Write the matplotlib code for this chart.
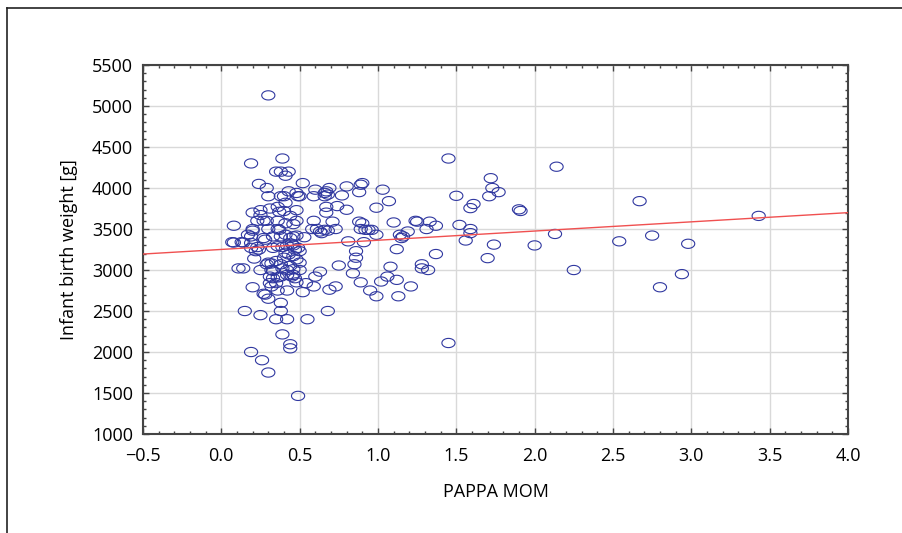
import numpy as np
import matplotlib
matplotlib.use("Agg")
import matplotlib.pyplot as plt
from matplotlib.path import Path
from matplotlib.lines import Line2D
from matplotlib.ticker import MultipleLocator

plt.rcParams["font.family"] = ["Open Sans", "DejaVu Sans"]

# PAPPA MOM values
pappa = [
    0.30, 0.19, 0.39, 0.35, 0.38, 0.43, 0.41, 0.24, 0.29, 0.30, 0.38, 0.40, 0.43, 0.41,
    0.48, 0.49, 0.50, 0.52, 0.60, 0.59, 0.66, 0.66, 0.67, 0.20, 0.25, 0.25, 0.27, 0.31,
    0.36, 0.37, 0.40, 0.44, 0.48, 0.48, 0.36, 0.41, 0.46, 0.59, 0.23, 0.29, 0.08, 0.20,
    0.20, 0.30, 0.36, 0.37, 0.58, 0.61, 0.63, 0.66, 0.17, 0.19, 0.27, 0.28, 0.33, 0.38,
    0.41, 0.44, 0.46, 0.48, 0.53, 0.08, 0.14, 0.19, 0.19, 0.23, 0.22, 0.24, 0.33, 0.36,
    0.39, 0.42, 0.45, 0.46, 0.47, 0.49, 0.50, 0.41, 0.43, 0.46, 0.48, 0.50, 0.40, 0.21,
    0.30, 0.32, 0.35, 0.29, 0.38, 0.14, 0.25, 0.32, 0.33, 0.39, 0.42, 0.44, 0.46, 0.50,
    0.31, 0.33, 0.36, 0.38, 0.42, 0.45, 0.46, 0.47, 0.31, 0.35, 0.48, 0.54, 0.59, 0.63,
    0.60, 0.20, 0.32, 0.36, 0.42, 0.52, 0.27, 0.28, 0.30, 0.38, 0.15, 0.25, 0.38, 0.35,
    0.42, 0.55, 0.68, 0.39, 0.44, 0.44, 0.19, 0.26, 0.30, 0.49,
    0.67, 0.68, 0.69, 0.77, 0.80, 0.89, 0.90, 0.88, 1.03, 1.07, 0.99, 0.80, 0.74, 0.67,
    0.71, 0.88, 0.90, 0.89, 0.92, 0.94, 0.96, 0.99, 0.73, 0.68, 0.64, 0.81, 0.91, 0.86,
    0.86, 0.85, 0.75, 0.84, 1.10, 1.14, 1.15, 1.16, 1.19, 1.12, 1.24, 1.25, 1.33, 1.31,
    1.37, 1.37, 1.28, 1.28, 1.32, 1.08, 1.06, 1.02, 1.12, 0.89, 1.21, 1.50, 1.52, 1.59,
    1.61, 1.56, 1.59, 1.59, 1.70, 0.73, 0.69, 0.95, 0.99, 1.13,
    1.72, 1.73, 1.71, 1.77, 1.90, 1.91, 2.14, 2.13, 2.00, 1.74, 1.45, 1.45, 2.25, 2.54,
    2.67, 2.75, 2.80, 2.94, 2.98, 3.43, 0.07, 0.13, 0.11,
]

# Infant birth weight [g]
weight = [
    5130, 4300, 4360, 4200, 4200, 4200, 4150, 4050, 4000, 3900, 3900, 3900, 3960, 3820,
    3940, 3900, 3900, 4060, 3980, 3900, 3940, 3900, 3700, 3700, 3730, 3670, 3600, 3750,
    3770, 3710, 3720, 3660, 3730, 3600, 3600, 3570, 3560, 3600, 3600, 3600, 3540, 3500,
    3480, 3500, 3500, 3490, 3500, 3500, 3470, 3490, 3430, 3410, 3390, 3370, 3410, 3410,
    3430, 3390, 3410, 3420, 3400, 3335, 3335, 3330, 3270, 3280, 3230, 3250, 3270, 3290,
    3280, 3300, 3320, 3300, 3250, 3270, 3230, 3210, 3190, 3170, 3130, 3090, 3150, 3140,
    3090, 3080, 3110, 3070, 3070, 3020, 3000, 3000, 2990, 3020, 3000, 3050, 3010, 3000,
    2920, 2900, 2910, 2920, 2940, 2920, 2940, 2900, 2840, 2840, 2850, 2840, 2800, 2980,
    2920, 2790, 2800, 2750, 2750, 2730, 2710, 2700, 2650, 2600, 2500, 2450, 2500, 2400,
    2400, 2400, 2500, 2215, 2095, 2045, 2000, 1900, 1750, 1465,
    3960, 3920, 4000, 3910, 4020, 4040, 4060, 3950, 3980, 3840, 3760, 3735, 3780, 3770,
    3590, 3590, 3570, 3500, 3490, 3490, 3490, 3430, 3500, 3480, 3450, 3350, 3340, 3230,
    3150, 3070, 3055, 2960, 3580, 3430, 3390, 3410, 3470, 3255, 3600, 3590, 3590, 3500,
    3540, 3195, 3070, 3020, 3000, 3040, 2920, 2860, 2880, 2850, 2800, 3905, 3550, 3755,
    3805, 3360, 3500, 3450, 3145, 2800, 2760, 2750, 2680, 2680,
    4120, 4000, 3900, 3950, 3740, 3720, 4260, 3440, 3300, 3310, 4360, 2110, 3000, 3350,
    3840, 3420, 2790, 2950, 3320, 3660, 3340, 3340, 3020,
]

# fitted line
fit_intercept = 3251
fit_slope = 112.2
x_range = [-0.5, 4.0]

# open ellipse marker, wider than tall
t = np.linspace(0, 2 * np.pi, 41)
ellipse = Path(np.column_stack([np.cos(t), 0.7 * np.sin(t)]), closed=True)

fig = plt.figure(figsize=(9.02, 5.33), dpi=100)
ax = fig.add_axes([0.1585, 0.1857, 0.7816, 0.6923])

ax.grid(True, which="major", color="#d9d9d9", linewidth=1.0, zorder=0)
ax.set_axisbelow(True)

ax.scatter(pappa, weight, marker=ellipse, s=90, facecolors="none",
           edgecolors="#3038a0", linewidths=0.8, zorder=3)

xs = np.array(x_range)
ax.plot(xs, fit_intercept + fit_slope * xs, color="#f05050", linewidth=1.0, zorder=4)

ax.set_xlim(-0.5, 4.0)
ax.set_ylim(1000, 5500)
ax.xaxis.set_major_locator(MultipleLocator(0.5))
ax.xaxis.set_minor_locator(MultipleLocator(0.1))
ax.yaxis.set_major_locator(MultipleLocator(500))
ax.yaxis.set_minor_locator(MultipleLocator(100))
ax.xaxis.set_major_formatter(plt.FuncFormatter(lambda v, p: f"{v:.1f}".replace("-", "\u2212")))

ax.tick_params(which="both", direction="in", top=True, right=True, color="#444444",
               labelsize=13, width=1.0)
ax.tick_params(axis="x", which="major", length=4, pad=9)
ax.tick_params(axis="y", which="major", length=4, pad=7)
ax.tick_params(which="minor", length=2.5)
for s in ax.spines.values():
    s.set_color("#444444")
    s.set_linewidth(1.5)

ax.set_xlabel("PAPPA MOM", fontsize=13, labelpad=13)
ax.set_ylabel("Infant birth weight [g]", fontsize=13, labelpad=10)

# outer frame lines (top and left)
fig.add_artist(Line2D([7 / 902, 1.0], [1 - 8 / 533, 1 - 8 / 533], color="#222222",
                      linewidth=1.2, transform=fig.transFigure))
fig.add_artist(Line2D([7 / 902, 7 / 902], [0.0, 1 - 8 / 533], color="#222222",
                      linewidth=1.2, transform=fig.transFigure))

fig.savefig("out.png", dpi=100)
